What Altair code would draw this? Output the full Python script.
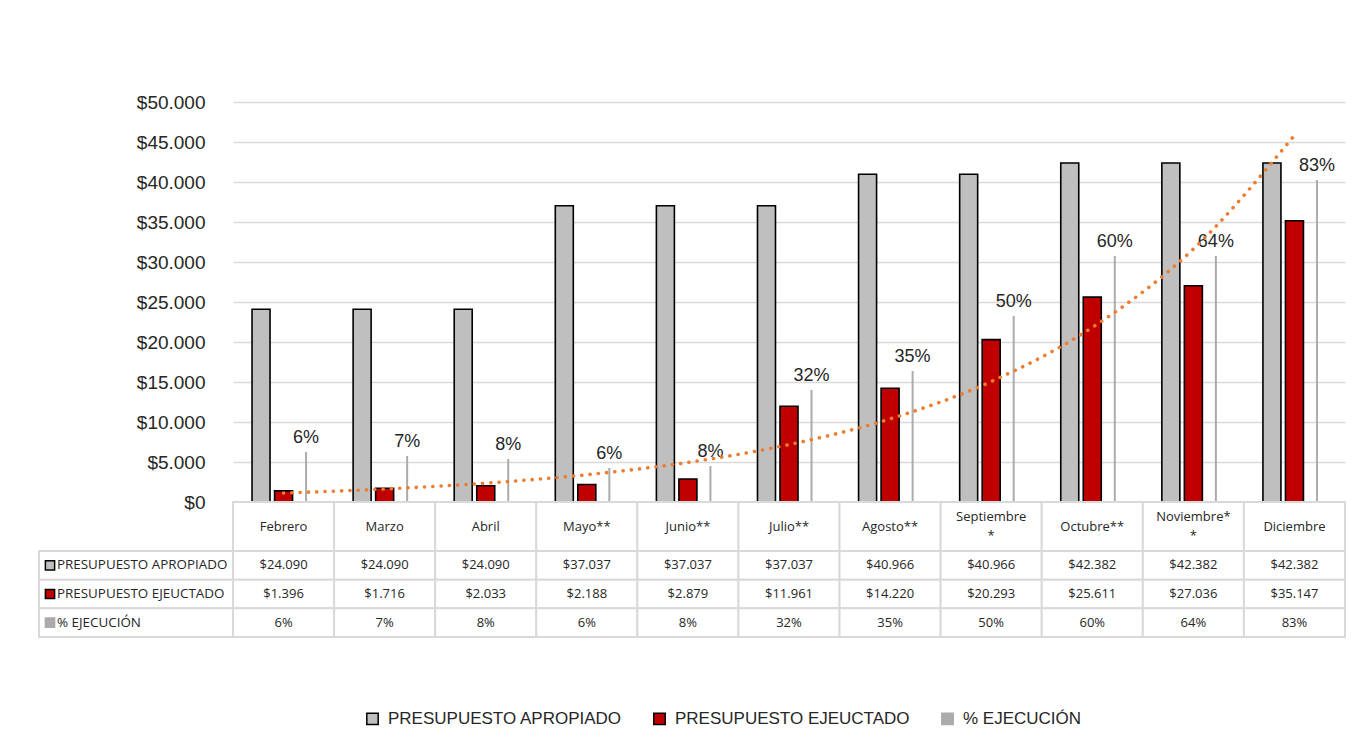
import altair as alt
import pandas as pd

# ---------------- data ----------------
months = ["Febrero", "Marzo", "Abril", "Mayo**", "Junio**", "Julio**", "Agosto**",
          "Septiembre\n*", "Octubre**", "Noviembre*\n*", "Diciembre"]
apropiado = [24090, 24090, 24090, 37037, 37037, 37037, 40966, 40966, 42382, 42382, 42382]
ejecutado = [1396, 1716, 2033, 2188, 2879, 11961, 14220, 20293, 25611, 27036, 35147]
pct_label = [6, 7, 8, 6, 8, 32, 35, 50, 60, 64, 83]
# height of the thin "% EJECUCIÓN" bars (secondary axis, 0-100)
pct_bar = [12.5, 11.5, 10.75, 8.5, 9.0, 28.0, 32.75, 46.5, 61.5, 61.5, 80.5]
series = ["PRESUPUESTO APROPIADO", "PRESUPUESTO EJEUCTADO", "% EJECUCIÓN"]
y_ticks = list(range(0, 50001, 5000))

GRAY = "#BFBFBF"
RED = "#C00000"
PGRAY = "#ABABAB"
BORDER = "#D9D9D9"
TXT = "#262626"
ORANGE = "#ED7D31"


def money(v):
    return "$" + f"{v:,}".replace(",", ".")


bars_df = pd.DataFrame(
    [{"mes": m, "serie": series[0], "valor": a} for m, a in zip(months, apropiado)]
    + [{"mes": m, "serie": series[1], "valor": e} for m, e in zip(months, ejecutado)]
)
pct_df = pd.DataFrame({"mes": months, "serie": series[2], "alto": pct_bar,
                       "etiqueta": [f"{p}%" for p in pct_label]})
trend_df = pd.DataFrame({"mes": months, "idx": list(range(len(months))), "ejec": ejecutado})
cat_df = pd.DataFrame({"mes": months})
table_df = pd.DataFrame(
    [{"mes": m, "fila": series[0], "texto": money(a)} for m, a in zip(months, apropiado)]
    + [{"mes": m, "fila": series[1], "texto": money(e)} for m, e in zip(months, ejecutado)]
    + [{"mes": m, "fila": series[2], "texto": f"{p}%"} for m, p in zip(months, pct_label)]
)
header_df = pd.DataFrame({"serie": series, "col": "h"})

# ---------------- shared encodings ----------------
legend = alt.Legend(orient="none", legendX=325, legendY=608, direction="horizontal",
                    title=None, symbolType="square", symbolSize=130,
                    symbolStrokeWidth=1.5, labelFontSize=17, labelFont="Liberation Sans",
                    labelColor=TXT, columnPadding=28, labelOffset=7, labelLimit=500)
color = alt.Color("serie:N", scale=alt.Scale(domain=series, range=[GRAY, RED, PGRAY]),
                  legend=legend)
stroke = alt.Stroke("serie:N", scale=alt.Scale(domain=series, range=["#000000", "#000000", PGRAY]),
                    legend=legend)
x_enc = alt.X("mes:N", sort=months,
              scale=alt.Scale(domain=months, paddingInner=0, paddingOuter=0), axis=None)
xoff = alt.XOffset("serie:N", scale=alt.Scale(domain=series, paddingInner=0, paddingOuter=0.745))

money_axis = alt.Axis(values=y_ticks, labelExpr="'$' + replace(format(datum.value, ','), ',', '.')",
                      grid=True, gridColor=BORDER, gridWidth=1.5, domain=False, ticks=False,
                      labelPadding=28, labelFontSize=19, labelFont="Liberation Sans",
                      labelColor=TXT, title=None)

# ---------------- main plot ----------------
bars = alt.Chart(bars_df).mark_bar(size=18, strokeWidth=1.6).encode(
    x=x_enc, xOffset=xoff,
    y=alt.Y("valor:Q", scale=alt.Scale(domain=[0, 50000], nice=False), axis=money_axis),
    color=color, stroke=stroke,
)
pct_bars = alt.Chart(pct_df).mark_bar(size=2).encode(
    x=x_enc, xOffset=xoff,
    y=alt.Y("alto:Q", scale=alt.Scale(domain=[0, 100], nice=False), axis=None),
    color=color,
)
pct_text = alt.Chart(pct_df).mark_text(baseline="alphabetic", dy=-9, fontSize=18,
                                       font="Liberation Sans", color=TXT).encode(
    x=x_enc, xOffset=xoff,
    y=alt.Y("alto:Q", scale=alt.Scale(domain=[0, 100], nice=False), axis=None),
    text="etiqueta:N",
)
trend = (
    alt.Chart(trend_df)
    .transform_calculate(ly="log(datum.ejec)")
    .transform_joinaggregate(mx="mean(idx)", my="mean(ly)")
    .transform_calculate(dxy="(datum.idx-datum.mx)*(datum.ly-datum.my)",
                         dxx="(datum.idx-datum.mx)*(datum.idx-datum.mx)")
    .transform_joinaggregate(sxy="sum(dxy)", sxx="sum(dxx)")
    .transform_calculate(trend="exp(datum.my + datum.sxy/datum.sxx*(datum.idx-datum.mx))")
    .mark_line(color=ORANGE, strokeWidth=3.6, strokeDash=[0.1, 8.2], strokeCap="round",
               interpolate="monotone")
    .encode(x=x_enc,
            y=alt.Y("trend:Q", scale=alt.Scale(domain=[0, 50000], nice=False), axis=None))
)
main = alt.layer(bars, pct_bars, pct_text, trend).resolve_scale(y="independent").properties(
    width=1112, height=400)

# ---------------- data table ----------------
one_line = "indexof(datum.mes, '\\n') < 0"
two_line = "indexof(datum.mes, '\\n') >= 0"
cat_row = alt.layer(
    alt.Chart(cat_df).mark_rect(fill="white", stroke=BORDER, strokeWidth=2).encode(x=x_enc),
    alt.Chart(cat_df).transform_filter(one_line).mark_text(
        fontSize=13, font="Open Sans", color=TXT).encode(x=x_enc, text="mes:N"),
    alt.Chart(cat_df).transform_filter(two_line).mark_text(
        fontSize=13, font="Open Sans", lineBreak="\n", color=TXT, lineHeight=19, dy=-9.5
    ).encode(x=x_enc, text="mes:N"),
).properties(width=1112, height=49)

y_row = alt.Y("fila:N", sort=series, scale=alt.Scale(domain=series, paddingInner=0, paddingOuter=0),
              axis=None)
values_tbl = alt.layer(
    alt.Chart(table_df).mark_rect(fill="white", stroke=BORDER, strokeWidth=2).encode(x=x_enc, y=y_row),
    alt.Chart(table_df).mark_text(fontSize=13, font="Open Sans", color=TXT).encode(
        x=x_enc, y=y_row, text="texto:N"),
).properties(width=1112, height=86)

y_hdr = alt.Y("serie:N", sort=series, scale=alt.Scale(domain=series, paddingInner=0, paddingOuter=0),
              axis=None)
x_hdr = alt.X("col:N", scale=alt.Scale(paddingInner=0, paddingOuter=0), axis=None)
x_hdr0 = alt.X("col:N", scale=alt.Scale(paddingInner=0, paddingOuter=0), axis=None, bandPosition=0)
header_col = alt.layer(
    alt.Chart(header_df).mark_rect(fill="white", stroke=BORDER, strokeWidth=2).encode(x=x_hdr, y=y_hdr),
    alt.Chart(header_df).mark_point(shape="square", filled=True, size=85, strokeWidth=1.5,
                                    opacity=1, xOffset=11).encode(
        x=x_hdr0, y=y_hdr, color=color, stroke=stroke),
    alt.Chart(header_df).mark_text(align="left", dx=18, fontSize=13.4, font="Open Sans",
                                   color=TXT).encode(x=x_hdr0, y=y_hdr, text="serie:N"),
).properties(width=194, height=86)


def spacer(w, h):
    return alt.Chart(pd.DataFrame({"s": [0]})).mark_point(opacity=0, size=0, strokeWidth=0).encode(
        x=alt.value(w / 2), y=alt.value(h / 2)).properties(width=w, height=h)


chart = alt.concat(
    spacer(194, 400), main,
    spacer(194, 49), cat_row,
    header_col, values_tbl,
    columns=2, spacing=0, bounds="flush", align="each",
).properties(
    padding={"left": 30, "top": 85, "right": 10, "bottom": 10},
    background="white",
).configure(font="Liberation Sans", view={"stroke": None})

chart.save("out.html", embed_options={"renderer": "svg", "actions": False})
